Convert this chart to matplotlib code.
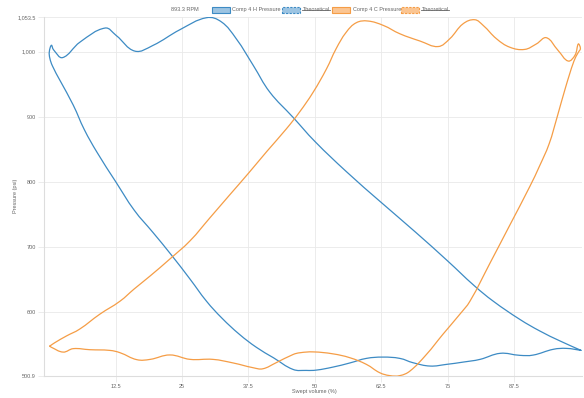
import numpy as np
import matplotlib
matplotlib.use("Agg")
import matplotlib.pyplot as plt
from matplotlib.path import Path
from matplotlib.patches import PathPatch, Rectangle
from matplotlib.lines import Line2D

# ---- data -------------------------------------------------------------
rpm_label = "893.3 RPM"
series_labels = ["Comp 4 H Pressure", "Theoretical", "Comp 4 C Pressure", "Theoretical"]

# Head end loop (swept volume %, pressure psi)
head_x = [100.1, 96.2, 92.4, 88.6, 83.6, 80.0, 75.0, 69.0, 62.5, 56.0, 50.0,
          45.9, 41.5, 38.4, 35.2, 32.4, 29.6, 24.6, 19.5, 16.1, 12.6, 10.5,
          5.8, 2.5, 0.8, 0.4, 0.0, 0.1, 0.6, 2.0, 4.5, 6.6, 9.0, 12.5, 16.0,
          19.5, 23.0, 26.5, 29.6, 32.5, 35.8, 39.0, 42.2, 45.9, 48.4, 50.3,
          53.4, 56.6, 59.7, 62.8, 66.0, 68.5, 71.7, 74.8, 78.0, 81.1, 84.9,
          88.6, 91.1, 94.9, 97.4, 100.1]
head_p = [540.4, 554.7, 570.0, 588.0, 616.0, 640.0, 678.0, 722.0, 768.0, 815.0, 862.0,
          899.0, 938.0, 979.0, 1020.0, 1046.0, 1052.4, 1034.0, 1009.7, 1001.0, 1025.0, 1036.5,
          1015.0, 991.0, 1003.0, 1010.0, 1000.0, 990.0, 978.0, 956.0, 918.0, 880.0, 845.0, 800.0, 756.0,
          722.0, 687.0, 650.0, 616.0, 590.0, 565.0, 545.0, 529.0, 511.0, 509.5, 510.0,
          514.6, 521.0, 528.0, 530.0, 528.0, 521.3, 516.2, 518.8, 522.4, 526.5, 535.8,
          532.7, 533.1, 542.0, 543.4, 540.4]

# Crank end loop
crank_x = [0.1, 1.0, 3.2, 5.7, 9.5, 13.3, 16.0, 19.0, 22.7, 26.5, 30.2, 34.0, 37.5,
           41.0, 44.6, 47.1, 49.7, 52.2, 54.0, 55.9, 57.8, 60.0, 62.9, 66.0, 69.8,
           73.2, 75.4, 77.9, 80.1, 81.7, 84.2, 86.7, 89.5, 91.7, 93.6, 95.8, 97.7,
           99.0, 99.6, 100.0, 99.6, 98.8, 97.2, 95.6, 94.1, 92.3, 90.5, 86.7, 83.0,
           79.2, 77.3, 74.1, 71.0, 67.9, 66.0, 64.1, 62.2, 59.7, 56.6, 53.4, 49.7,
           47.2, 45.9, 42.7, 40.2, 38.4, 34.6, 30.8, 26.5, 22.7, 19.0, 16.5, 13.3,
           11.4, 7.6, 4.5, 2.6, 0.3, 0.1]
crank_p = [547.0, 552.0, 562.4, 573.0, 596.0, 616.0, 635.0, 655.0, 681.0, 709.0, 744.0, 780.0, 813.0,
           847.0, 881.0, 907.0, 938.0, 973.8, 1004.6, 1030.0, 1044.7, 1047.3, 1040.5, 1027.7, 1016.5,
           1008.0, 1020.0, 1043.0, 1049.3, 1040.5, 1020.0, 1007.0, 1003.6, 1012.0, 1021.6, 1002.0, 985.7,
           995.0, 1012.0, 1005.0, 999.0, 986.0, 945.0, 899.0, 858.0, 824.0, 793.0, 733.0, 675.0,
           616.0, 596.0, 565.0, 534.0, 508.5, 501.5, 501.5, 506.0, 518.8, 529.0, 535.0, 538.0,
           536.7, 534.0, 521.3, 512.0, 513.6, 521.0, 526.5, 526.5, 533.3, 526.5, 526.0, 536.8,
           540.3, 541.4, 543.0, 537.7, 545.5, 547.0]

x_ticks = [12.5, 25, 37.5, 50, 62.5, 75, 87.5]
y_ticks = [500.9, 600, 700, 800, 900, 1000, 1053.5]
y_tick_labels = ["500.9", "600", "700", "800", "900", "1,000", "1,053.5"]

# ---- style ------------------------------------------------------------
W, H = 584, 398
BLUE = "#3d8bc4"
ORANGE = "#f59d46"
GRID = "#e9e9e9"
TEXT = "#666666"
FONT = "Liberation Sans"
FS = 4.0

plt.rcParams["font.family"] = [FONT, "DejaVu Sans"]

fig = plt.figure(figsize=(W / 100, H / 100), dpi=100)
fig.patch.set_facecolor("white")
L, R, T, B = 44, 582, 17, 376
ax = fig.add_axes([L / W, 1 - B / H, (R - L) / W, (B - T) / H])
ax.set_xlim(-1.0, 100.3)
ax.set_ylim(500.9, 1053.5)


def smooth_path(xs, ys, tension=0.4):
    """Cardinal spline through the points (Chart.js style), as a Bezier Path."""
    pts = np.column_stack([xs, ys]).astype(float)
    disp = ax.transData.transform(pts)
    n = len(pts)
    cin = np.zeros_like(pts)
    cout = np.zeros_like(pts)
    for i in range(n):
        p0 = pts[max(i - 1, 0)]
        p2 = pts[min(i + 1, n - 1)]
        d0 = disp[max(i - 1, 0)]
        d1 = disp[i]
        d2 = disp[min(i + 1, n - 1)]
        d01 = np.hypot(*(d1 - d0))
        d12 = np.hypot(*(d2 - d1))
        tot = d01 + d12
        s01 = d01 / tot if tot else 0
        s12 = d12 / tot if tot else 0
        cin[i] = pts[i] - tension * s01 * (p2 - p0)
        cout[i] = pts[i] + tension * s12 * (p2 - p0)
    verts = [pts[0]]
    codes = [Path.MOVETO]
    for i in range(n - 1):
        verts += [cout[i], cin[i + 1], pts[i + 1]]
        codes += [Path.CURVE4] * 3
    return Path(np.array(verts), codes)


for xs, ys, col in [(head_x, head_p, BLUE), (crank_x, crank_p, ORANGE)]:
    ax.add_patch(PathPatch(smooth_path(xs, ys), fill=False, edgecolor=col,
                           lw=0.9, capstyle="round", joinstyle="round", zorder=3))

# axes, grid and ticks
ax.set_xticks(x_ticks)
ax.set_xticklabels([f"{v:g}" for v in x_ticks])
ax.set_yticks(y_ticks)
ax.set_yticklabels(y_tick_labels)
ax.grid(True, color=GRID, lw=0.6)
ax.set_axisbelow(True)
ax.tick_params(axis="both", colors=GRID, labelcolor=TEXT, labelsize=FS,
               length=4, width=0.6, pad=2)
for s in ["top", "right"]:
    ax.spines[s].set_visible(False)
for s in ["left", "bottom"]:
    ax.spines[s].set_color("#dddddd")
    ax.spines[s].set_linewidth(0.8)

fig.text(16 / W, 1 - 196 / H, "Pressure (psi)", rotation=90, ha="center",
         va="center", fontsize=FS, color=TEXT)
fig.text(314 / W, 1 - 392 / H, "Swept volume (%)", ha="center", va="center",
         fontsize=FS, color=TEXT)

# ---- legend row --------------------------------------------------------
def px(x, y):
    return x / W, 1 - y / H


fig.text(*px(171, 9.5), rpm_label, ha="left", va="center", fontsize=FS, color=TEXT)

legend_items = [
    (212, series_labels[0], BLUE, "#9cc4e2", "solid", False),
    (282, series_labels[1], BLUE, "#9cc4e2", (0, (2, 1.2)), True),
    (332, series_labels[2], ORANGE, "#fbc592", "solid", False),
    (401, series_labels[3], ORANGE, "#fbc592", (0, (2, 1.2)), True),
]
renderer = fig.canvas.get_renderer()
for x0, label, edge, face, ls, hidden in legend_items:
    bx, by = px(x0, 12.5)
    rect = Rectangle((bx, by), 17.5 / W, 6 / H, transform=fig.transFigure,
                     facecolor=face, edgecolor=edge, lw=0.8, linestyle=ls)
    fig.patches.append(rect)
    t = fig.text(*px(x0 + 20.5, 9.5), label, ha="left", va="center",
                 fontsize=FS, color=TEXT)
    if hidden:
        bb = t.get_window_extent(renderer).transformed(fig.transFigure.inverted())
        ymid = (bb.y0 + bb.y1) / 2
        fig.lines.append(Line2D([bb.x0, bb.x1], [ymid, ymid], transform=fig.transFigure,
                                color=TEXT, lw=0.6))

fig.savefig("out.png", dpi=100, facecolor="white")
